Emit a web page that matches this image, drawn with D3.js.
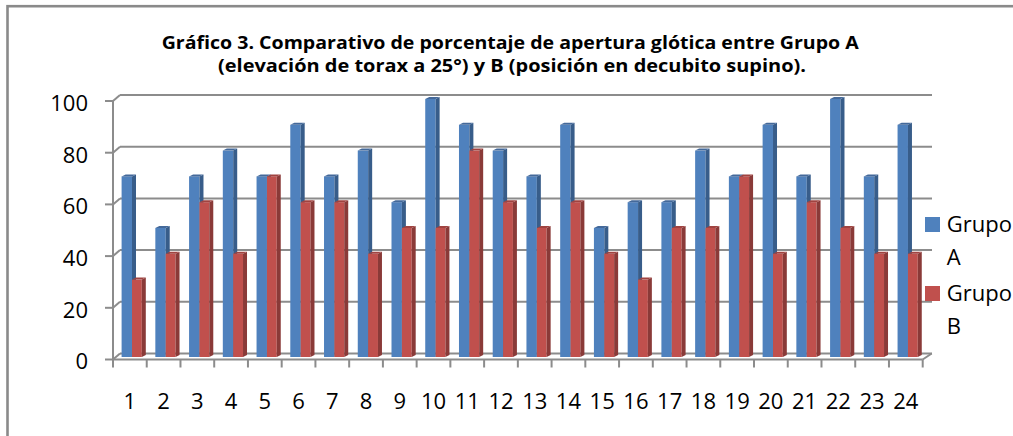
<!DOCTYPE html>
<html>
<head>
<meta charset="utf-8">
<script src="https://cdn.jsdelivr.net/npm/d3@7/dist/d3.min.js"></script>
<style>
  html, body { margin: 0; padding: 0; background: #fff; overflow: hidden; }
  text { font-family: "Open Sans", "Noto Sans", sans-serif; fill: #000; }
</style>
</head>
<body>
<div id="chart"></div>
<script>
const categories = ['1','2','3','4','5','6','7','8','9','10','11','12','13','14','15','16','17','18','19','20','21','22','23','24'];
const grupoA = [70, 50, 70, 80, 70, 90, 70, 80, 60, 100, 90, 80, 70, 90, 50, 60, 60, 80, 70, 90, 70, 100, 70, 90];
const grupoB = [30, 40, 60, 40, 70, 60, 60, 40, 50, 50, 80, 60, 50, 60, 40, 30, 50, 50, 70, 40, 60, 50, 40, 40];
const yTicks = [0, 20, 40, 60, 80, 100];
const seriesNames = [['Grupo', 'A'], ['Grupo', 'B']];
const titleLines = [
  'Gráfico 3. Comparativo de porcentaje de apertura glótica entre Grupo A',
  '(elevación de torax a 25°) y B (posición en decubito supino).'
];

const width = 1013, height = 436;
const colors = [
  { front: '#4f81bd', side: '#385d8a', top: '#44699a' },
  { front: '#c0504d', side: '#8a3a38', top: '#a04340' }
];
const gridColor = '#8c8c8c';

const svg = d3.select('#chart').append('svg')
  .attr('width', width)
  .attr('height', height);

// outer chart frame (runs off the right / bottom edge)
svg.append('rect')
  .attr('x', 7.5).attr('y', 6.2)
  .attr('width', 1100).attr('height', 500)
  .attr('fill', 'none')
  .attr('stroke', '#8a8a8a')
  .attr('stroke-width', 2.6);

// title
svg.selectAll('.title')
  .data(titleLines)
  .enter()
  .append('text')
  .attr('class', 'title')
  .attr('x', (d, i) => i === 0 ? 161.7 : 218)
  .attr('y', (d, i) => i === 0 ? 49.3 : 71.7)
  .attr('textLength', (d, i) => i === 0 ? 697 : 588)
  .attr('lengthAdjust', 'spacingAndGlyphs')
  .style('font-size', '18px')
  .style('font-weight', 'bold')
  .text(d => d);

// 3D-ish geometry: front axis plane, back wall plane, bar plane
const depth = { dx: 7, dy: -6 };
const x = d3.scaleBand().domain(categories).range([113, 922.7]).paddingInner(0).paddingOuter(0);
const yFront = d3.scaleLinear().domain([0, 100]).range([359.5, 101]);
const yBack = d3.scaleLinear().domain([0, 100]).range([yFront(0) + depth.dy, yFront(100) + depth.dy]);
const yBar = d3.scaleLinear().domain([0, 100]).range([357, 99]);
const x0 = x.range()[0], x1 = x.range()[1];

const grid = svg.append('g').attr('stroke', gridColor).attr('stroke-width', 2).attr('fill', 'none');

// back wall gridlines + diagonals + left ticks
yTicks.forEach(v => {
  grid.append('line')
    .attr('x1', x0 + depth.dx).attr('x2', 932)
    .attr('y1', yBack(v)).attr('y2', yBack(v));
  grid.append('line')
    .attr('x1', x0).attr('y1', yFront(v))
    .attr('x2', x0 + depth.dx).attr('y2', yBack(v));
  grid.append('line')
    .attr('x1', x0 - 8).attr('x2', x0)
    .attr('y1', yFront(v)).attr('y2', yFront(v));
});

// left value axis
grid.append('line')
  .attr('x1', x0).attr('x2', x0)
  .attr('y1', yFront(100)).attr('y2', yFront(0));

// floor front edge + right diagonal
grid.append('line')
  .attr('x1', x0).attr('x2', x1)
  .attr('y1', yFront(0)).attr('y2', yFront(0));
grid.append('line')
  .attr('x1', x1).attr('y1', yFront(0))
  .attr('x2', x1 + depth.dx + 2).attr('y2', yBack(0));

// category ticks
const tickPos = categories.map(c => x(c)).concat([x1]);
tickPos.forEach(px => {
  grid.append('line')
    .attr('x1', px).attr('x2', px)
    .attr('y1', yFront(0)).attr('y2', yFront(0) + 8);
});

// bars
const barW = [10.4, 9.8];
const bd = { dx: 4, dy: -2 };
const bars = svg.append('g');
categories.forEach((c, i) => {
  [grupoA[i], grupoB[i]].forEach((v, s) => {
    const bx = x(c) + 8.6 + (s === 0 ? 0 : barW[0]);
    const w = barW[s];
    const yt = yBar(v), yb = yBar(0);
    const col = colors[s];
    bars.append('rect')
      .attr('x', bx).attr('y', yt)
      .attr('width', w).attr('height', yb - yt)
      .attr('fill', col.front);
    bars.append('path')
      .attr('d', `M${bx + w},${yt}L${bx + w + bd.dx},${yt + bd.dy}L${bx + w + bd.dx},${yb + bd.dy}L${bx + w},${yb}Z`)
      .attr('fill', col.side);
    bars.append('path')
      .attr('d', `M${bx},${yt}L${bx + w},${yt}L${bx + w + bd.dx},${yt + bd.dy}L${bx + bd.dx},${yt + bd.dy}Z`)
      .attr('fill', col.top);
  });
});

// y labels
svg.selectAll('.ylab')
  .data(yTicks)
  .enter()
  .append('text')
  .attr('class', 'ylab')
  .attr('x', 88)
  .attr('y', d => yFront(d) + 2)
  .attr('dy', '.36em')
  .style('text-anchor', 'end')
  .style('font-size', '22px')
  .text(d => d);

// x labels
svg.selectAll('.xlab')
  .data(categories)
  .enter()
  .append('text')
  .attr('class', 'xlab')
  .attr('x', d => x(d) + x.bandwidth() / 2)
  .attr('y', 409)
  .style('text-anchor', 'middle')
  .style('font-size', '22px')
  .text(d => d);

// legend
const legend = svg.selectAll('.legend')
  .data(seriesNames)
  .enter()
  .append('g')
  .attr('class', 'legend')
  .attr('transform', (d, i) => `translate(925,${217 + i * 69})`);

legend.append('rect')
  .attr('width', 15).attr('height', 15)
  .attr('fill', (d, i) => colors[i].front);

legend.append('text')
  .attr('x', 21.7).attr('y', 15)
  .style('font-size', '22px')
  .text(d => d[0]);

legend.append('text')
  .attr('x', 21.7).attr('y', 48)
  .style('font-size', '22px')
  .text(d => d[1]);
</script>
</body>
</html>
